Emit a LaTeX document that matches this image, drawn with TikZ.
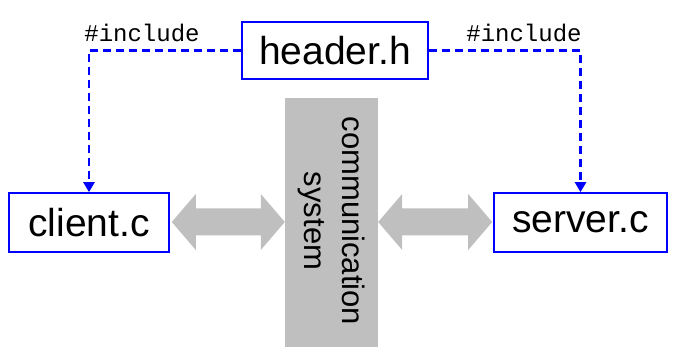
\documentclass[tikz,border=0pt]{standalone}
\usepackage{fontspec}
\setmainfont{Liberation Sans}
\newfontfamily\codefont{Liberation Mono}
\usetikzlibrary{arrows.meta,calc}
\definecolor{linkblue}{RGB}{0,0,255}
\definecolor{busgray}{RGB}{191,191,191}
\tikzset{
  filebox/.style={draw=linkblue, line width=1.6pt, fill=white, inner sep=0pt,
    font=\fontsize{39}{44}\selectfont},
  includeline/.style={draw=linkblue, line width=2.4pt, dash pattern=on 8pt off 5pt,
    -{Triangle[width=11pt,length=10pt]}},
  includelabel/.style={anchor=base, inner sep=0pt, font=\codefont\fontsize{24}{26}\selectfont},
  busbox/.style={fill=busgray, inner sep=0pt, minimum width=93pt, minimum height=249pt},
}
% gray double-headed block arrow between two points at the same height
\newcommand{\busarrow}[2]{%
  \fill[busgray] (#1)
    -- ($(#1)+(24,-28)$) -- ($(#1)+(24,-13.5)$)
    -- ($(#2)+(-24,-13.5)$) -- ($(#2)+(-24,-28)$)
    -- (#2)
    -- ($(#2)+(-24,28)$) -- ($(#2)+(-24,13.5)$)
    -- ($(#1)+(24,13.5)$) -- ($(#1)+(24,28)$)
    -- cycle;}
\begin{document}
\begin{tikzpicture}[x=1pt,y=-1pt]
  \useasboundingbox (0,0) rectangle (685,363);

  % files
  \node[filebox, minimum width=186pt, minimum height=57pt] (header) at (335,50.5) {header.h};
  \node[filebox, minimum width=160pt, minimum height=59pt] (client) at (89,222.5) {client.c};
  \node[filebox, minimum width=173pt, minimum height=59pt] (server) at (580.5,222.5) {server.c};

  % communication system
  \node[busbox] (comm) at (331.5,222.5) {};
  \node[rotate=-90, align=center, inner sep=0pt,
        font=\fontsize{31}{37.5}\selectfont] (commtext) at ($(comm.center)+(0,-1.5)$) {communication\\system};

  % include dependencies
  \draw[includeline] (header.west) -| (client.north);
  \draw[includeline] (header.east) -| (server.north);
  \node[includelabel] (incl) at (142,42) {\#include};
  \node[includelabel] (incr) at (524,42) {\#include};

  % message flow
  \coordinate (cl) at ($(client.east)+(2,-0.5)$);
  \coordinate (cr) at ($(comm.west)+(0,-0.5)$);
  \coordinate (sl) at ($(comm.east)+(0,-0.5)$);
  \coordinate (sr) at ($(server.west)+(-1,-0.5)$);
  \busarrow{cl}{cr}
  \busarrow{sl}{sr}
\end{tikzpicture}
\end{document}
